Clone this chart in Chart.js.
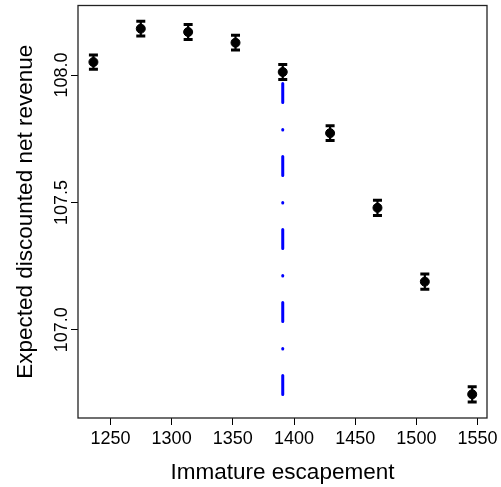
<!DOCTYPE html>
<html>
<head>
<meta charset="utf-8">
<script src="https://cdn.jsdelivr.net/npm/chart.js@4"></script>
<style>
  html, body { margin: 0; padding: 0; background: #fff; }
  #wrap { width: 501px; height: 487px; }
</style>
</head>
<body>
<div id="wrap"><canvas id="chart"></canvas></div>
<script>
// data
const escapement = [1236.1, 1274.8, 1313.5, 1352.2, 1390.8, 1429.5, 1468.2, 1506.9, 1545.6];
const revenue    = [108.051, 108.182, 108.169, 108.127, 108.012, 107.772, 107.479, 107.189, 106.747];
const errHalf    = [0.028, 0.029, 0.029, 0.029, 0.029, 0.029, 0.030, 0.030, 0.030];
const xTicks = [1250, 1300, 1350, 1400, 1450, 1500, 1550];
const yTicks = [107.0, 107.5, 108.0];
const optX = escapement[4];
const optLine = [107.967, 106.743];

const font = 'Liberation Sans, Arial, Helvetica, sans-serif';

// error bars + frame
const errorBars = {
  id: 'errorBars',
  beforeDatasetsDraw(chart) {
    const ctx = chart.ctx;
    const xs = chart.scales.x, ys = chart.scales.y;
    ctx.save();
    ctx.strokeStyle = '#000';
    escapement.forEach((x, i) => {
      const px = xs.getPixelForValue(x);
      const top = ys.getPixelForValue(revenue[i] + errHalf[i]);
      const bot = ys.getPixelForValue(revenue[i] - errHalf[i]);
      ctx.lineWidth = 2.2;
      ctx.beginPath();
      ctx.moveTo(px, top); ctx.lineTo(px, bot);
      ctx.stroke();
      ctx.lineWidth = 3;
      ctx.beginPath();
      ctx.moveTo(px - 4.5, top); ctx.lineTo(px + 4.5, top);
      ctx.moveTo(px - 4.5, bot); ctx.lineTo(px + 4.5, bot);
      ctx.stroke();
    });
    ctx.restore();
  },
  afterDraw(chart) {
    const a = chart.chartArea, ctx = chart.ctx;
    ctx.save();
    ctx.strokeStyle = '#222';
    ctx.lineWidth = 1.3;
    ctx.strokeRect(a.left, a.top, a.right - a.left, a.bottom - a.top);
    ctx.restore();
  }
};

new Chart(document.getElementById('chart'), {
  type: 'scatter',
  data: {
    datasets: [
      {
        data: escapement.map((x, i) => ({ x: x, y: revenue[i] })),
        backgroundColor: '#000',
        borderColor: '#000',
        pointRadius: 4.5,
        pointHoverRadius: 4.5
      },
      {
        type: 'line',
        data: [{ x: optX, y: optLine[0] }, { x: optX, y: optLine[1] }],
        borderColor: '#0000FF',
        borderWidth: 3,
        borderDash: [19, 27, 0.5, 26.5],
        borderCapStyle: 'round',
        pointRadius: 0,
        fill: false
      }
    ]
  },
  options: {
    responsive: true,
    maintainAspectRatio: false,
    animation: false,
    layout: { padding: { top: 3, right: 14, left: 0, bottom: 0 } },
    plugins: { legend: { display: false }, tooltip: { enabled: false } },
    scales: {
      x: {
        type: 'linear',
        min: 1223.5,
        max: 1557.7,
        afterBuildTicks: s => { s.ticks = xTicks.map(v => ({ value: v })); },
        afterFit: s => { s.height = 69; },
        grid: { drawOnChartArea: false, tickLength: 7, tickColor: '#000', tickWidth: 1 },
        border: { display: false },
        ticks: { color: '#000', font: { family: font, size: 18 }, padding: 3, maxRotation: 0,
                 callback: v => String(v) },
        title: { display: true, text: 'Immature escapement', color: '#000',
                 font: { family: font, size: 22.5 }, padding: { top: 0, bottom: 1 } }
      },
      y: {
        type: 'linear',
        min: 106.654,
        max: 108.273,
        afterBuildTicks: s => { s.ticks = yTicks.map(v => ({ value: v })); },
        afterFit: s => { s.width = 78; },
        grid: { drawOnChartArea: false, tickLength: 7, tickColor: '#000', tickWidth: 1 },
        border: { display: false },
        ticks: { color: '#000', font: { family: font, size: 18 }, padding: -13.5,
                 minRotation: 90, maxRotation: 90, crossAlign: 'center',
                 callback: v => v.toFixed(1) },
        title: { display: true, text: 'Expected discounted net revenue', color: '#000',
                 font: { family: font, size: 22.5 }, padding: { top: 12, bottom: 0 } }
      }
    }
  },
  plugins: [errorBars]
});
</script>
</body>
</html>
